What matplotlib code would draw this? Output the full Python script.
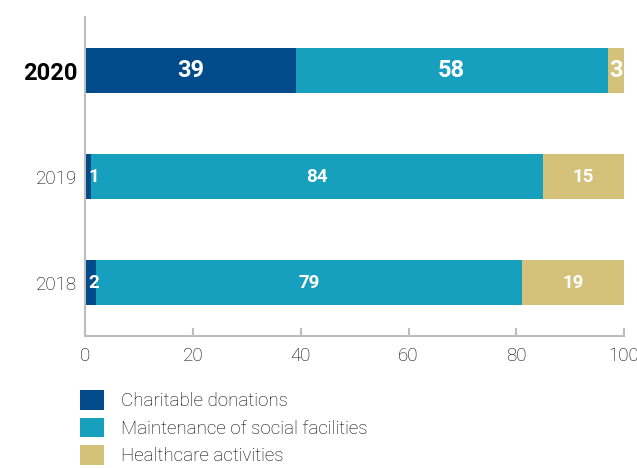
import matplotlib.pyplot as plt
from matplotlib.patches import Patch
import numpy as np

plt.rcParams['font.family'] = ['Roboto', 'DejaVu Sans']

years = ['2018', '2019', '2020']
charitable = [2, 1, 39]
social = [79, 84, 58]
health = [19, 15, 3]
series_names = ['Charitable donations', 'Maintenance of social facilities', 'Healthcare activities']
colors = ['#024b8a', '#179fbe', '#d4c27a']

fig = plt.figure(figsize=(6.37, 4.68), dpi=100)
ax = fig.add_axes([0.1342, 0.282, 0.8454, 0.6816])

y = np.arange(len(years))
h = 0.425
left = np.zeros(len(years))
for vals, col in zip([charitable, social, health], colors):
    vals = np.array(vals, dtype=float)
    ax.barh(y, vals, h, left=left, color=col, linewidth=0)
    for i, (l, v) in enumerate(zip(left, vals)):
        fs = 17 if years[i] == '2020' else 13.5
        if v < 3:
            ax.text(l + 0.5, y[i], f'{int(v)}', ha='left', va='center',
                    color='white', fontsize=fs, fontweight='bold')
        else:
            ax.text(l + v / 2, y[i], f'{int(v)}', ha='center', va='center',
                    color='white', fontsize=fs, fontweight='bold')
    left = left + vals

ax.set_xlim(0, 100)
ax.set_ylim(-0.505, 2.505)
ax.set_xticks([0, 20, 40, 60, 80, 100])
ax.set_yticks(y)
ax.set_yticklabels(years)

for s in ['top', 'right']:
    ax.spines[s].set_visible(False)
for s in ['left', 'bottom']:
    ax.spines[s].set_color('#bdbdbd')
    ax.spines[s].set_linewidth(1.5)

ax.tick_params(axis='x', direction='in', length=6, width=1.5, color='#bdbdbd',
               labelsize=13.5, pad=8, labelcolor='#000000')
ax.tick_params(axis='y', length=0, labelsize=13.5, pad=6, labelcolor='#000000')
for lbl in ax.get_xticklabels():
    lbl.set_fontweight('light')
for lbl in ax.get_yticklabels():
    lbl.set_fontweight('light')
    if lbl.get_text() == '2020':
        lbl.set_fontweight('bold')
        lbl.set_fontsize(17)

handles = [Patch(facecolor=c, edgecolor='none') for c in colors]
leg = fig.legend(handles, series_names, loc='upper left',
                 bbox_to_anchor=(80 / 637, 1 - 390 / 468), frameon=False,
                 borderpad=0, borderaxespad=0, fontsize=13.5,
                 handlelength=1.28, handleheight=1.23, handletextpad=0.9,
                 labelspacing=0.4)
for t in leg.get_texts():
    t.set_fontweight('light')
    t.set_color('#000000')

fig.savefig('out.png', dpi=100)
